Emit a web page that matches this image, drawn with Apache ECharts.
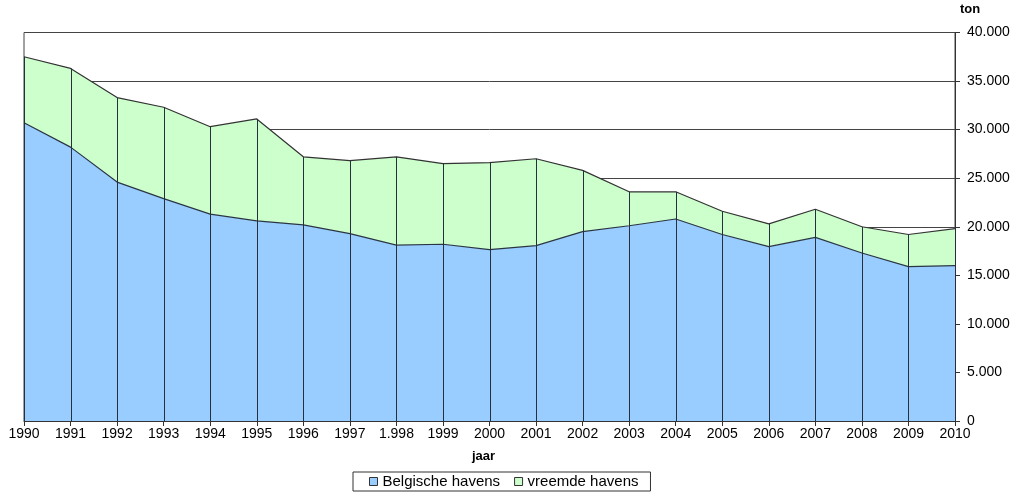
<!DOCTYPE html>
<html>
<head>
<meta charset="utf-8">
<script src="https://cdn.jsdelivr.net/npm/echarts@6/dist/echarts.min.js"></script>
<style>
html,body{margin:0;padding:0;background:#fff;}
#chart{width:1024px;height:496px;}
</style>
</head>
<body>
<div id="chart"></div>
<script>
const categories = ['1990','1991','1992','1993','1994','1995','1996','1997','1.998','1999','2000','2001','2002','2003','2004','2005','2006','2007','2008','2009','2010'];
const belgischeHavens = [30700,28200,24600,22900,21300,20600,20200,19300,18100,18200,17650,18050,19500,20100,20800,19200,17950,18900,17300,15900,16000];
const vreemdeHavens = [6800,8100,8700,9400,9000,10500,7000,7500,9100,8300,8950,8950,6300,3500,2800,2400,2350,2900,2700,3300,3800];
const yTicks = {min:0, max:40000, interval:5000};
const seriesNames = ['Belgische havens','vreemde havens'];

const totals = belgischeHavens.map((v,i)=>v+vreemdeHavens[i]);
const font = 'Liberation Sans, Arial, sans-serif';

const chart = echarts.init(document.getElementById('chart'), null, {renderer:'canvas'});
chart.setOption({
  animation:false,
  backgroundColor:'#fff',
  grid:{left:24,right:69,top:32.5,bottom:75,show:true,borderColor:'#444',borderWidth:1,backgroundColor:'transparent'},
  legend:{
    left:353, top:472,
    orient:'horizontal',
    borderColor:'#333', borderWidth:1,
    padding:[2,12,2,16],
    itemGap:14, itemWidth:8, itemHeight:8,
    icon:'rect',
    textStyle:{fontFamily:font,fontSize:15,color:'#000'},
    data:[
      {name:seriesNames[0],itemStyle:{color:'#99CCFF',borderColor:'#333',borderWidth:1}},
      {name:seriesNames[1],itemStyle:{color:'#CCFFCC',borderColor:'#333',borderWidth:1}}
    ]
  },
  graphic:[
    {type:'text',left:472,top:450,style:{text:'jaar',font:'bold 13px '+font,fill:'#000'}},
    {type:'text',left:960,top:3,style:{text:'ton',font:'bold 13px '+font,fill:'#000'}}
  ],
  xAxis:{
    type:'category',
    data:categories,
    boundaryGap:false,
    axisLine:{lineStyle:{color:'#333',width:1}},
    axisTick:{show:true,length:5,lineStyle:{color:'#333'}},
    axisLabel:{fontFamily:font,fontSize:14,color:'#000',margin:6,interval:0},
    splitLine:{show:false}
  },
  yAxis:{
    type:'value',
    position:'right',
    min:yTicks.min,max:yTicks.max,interval:yTicks.interval,
    axisLine:{show:true,lineStyle:{color:'#333',width:1}},
    axisTick:{show:true,length:5,lineStyle:{color:'#333'}},
    axisLabel:{fontFamily:font,fontSize:14,color:'#000',margin:12,
      formatter:v=>String(v).replace(/\B(?=(\d{3})+(?!\d))/g,'.')},
    splitLine:{show:true,lineStyle:{color:'#444',width:1}}
  },
  series:[
    {
      name:seriesNames[0],type:'line',stack:'total',data:belgischeHavens,
      showSymbol:false,symbol:'none',
      itemStyle:{color:'#99CCFF'},
      lineStyle:{color:'#2a3644',width:1.2},
      areaStyle:{color:'#99CCFF',opacity:1},
      z:2
    },
    {
      name:seriesNames[1],type:'line',stack:'total',data:vreemdeHavens,
      showSymbol:false,symbol:'none',
      itemStyle:{color:'#CCFFCC'},
      lineStyle:{color:'#333',width:1.2},
      areaStyle:{color:'#CCFFCC',opacity:1},
      z:2
    },
    {
      type:'custom',
      data:totals.map((t,i)=>[i,t]),
      encode:{x:0,y:1},
      silent:true,
      z:5,
      renderItem:function(params,api){
        const top = api.coord([api.value(0),api.value(1)]);
        const bot = api.coord([api.value(0),0]);
        return {type:'line',shape:{x1:Math.round(top[0])+0.5,y1:top[1],x2:Math.round(bot[0])+0.5,y2:bot[1]},
          style:{stroke:'#26303c',lineWidth:1}};
      }
    }
  ]
});
</script>
</body>
</html>
